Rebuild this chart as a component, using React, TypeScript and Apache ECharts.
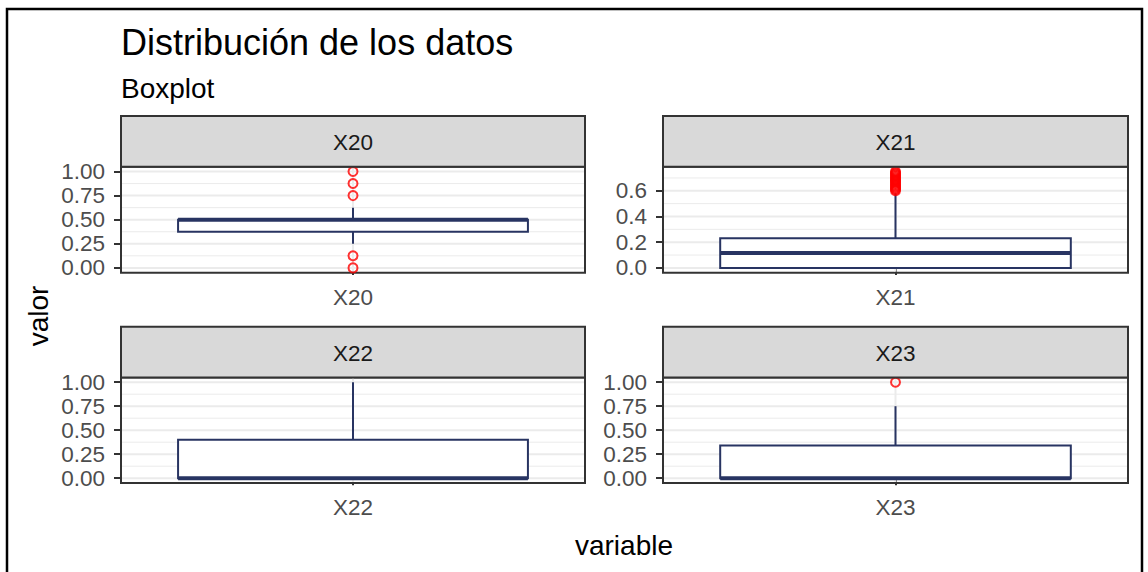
import React, { useEffect, useRef } from "react";
import * as echarts from "echarts";

// ---------- data ----------
const panels = ["X20", "X21", "X22", "X23"];
// [lower whisker, Q1, median, Q3, upper whisker]
const boxX20 = [0.25, 0.375, 0.5, 0.5, 0.625];
const boxX21 = [0, 0, 0.115, 0.23, 0.58];
const boxX22 = [0, 0, 0, 0.4, 1];
const boxX23 = [0, 0, 0, 0.34, 0.75];
const outX20 = [0, 0.125, 0.75, 0.875, 1];
const outX21 = [0.6, 0.61, 0.62, 0.63, 0.64, 0.65, 0.66, 0.67, 0.68, 0.69, 0.7, 0.71, 0.72, 0.73, 0.74, 0.75];
const outX22: number[] = [];
const outX23 = [1];
const ticksUnit = [0, 0.25, 0.5, 0.75, 1];
const minorUnit = [0.125, 0.375, 0.625, 0.875];
const ticksX21 = [0, 0.2, 0.4, 0.6];
const minorX21 = [0.1, 0.3, 0.5, 0.7];
const rangeUnit = [-0.05, 1.05];
const rangeX21 = [-0.0375, 0.7875];

const boxes = [boxX20, boxX21, boxX22, boxX23];
const outliers = [outX20, outX21, outX22, outX23];
const majors = [ticksUnit, ticksX21, ticksUnit, ticksUnit];
const minors = [minorUnit, minorX21, minorUnit, minorUnit];
const ranges = [rangeUnit, rangeX21, rangeUnit, rangeUnit];
const decimals = [2, 1, 2, 2];

// ---------- layout ----------
const FONT = "'Liberation Sans', Arial, sans-serif";
const NAVY = "#283462";
const colLeft = [121, 663];
const panelW = [464, 465];
const stripTop = [116, 326.7];
const stripH = 50.7;
const plotH = [106, 105.6];

export default function App() {
  const ref = useRef<HTMLDivElement>(null);
  useEffect(() => {
    document.body.style.margin = "0";
    const chart = echarts.init(ref.current!, null, { renderer: "svg" });

    const grids: any[] = [];
    const xAxes: any[] = [];
    const yAxes: any[] = [];
    const series: any[] = [];
    const graphics: any[] = [];

    panels.forEach((name, i) => {
      const col = i % 2;
      const row = Math.floor(i / 2);
      const left = colLeft[col];
      const w = panelW[col];
      const top = stripTop[row] + stripH;
      grids.push({
        left, top, width: w, height: plotH[row],
        show: true, backgroundColor: "#fff", borderColor: "#333333", borderWidth: 2,
      });
      xAxes.push({
        type: "category", gridIndex: i, data: [name], boundaryGap: true,
        axisLine: { show: false },
        axisTick: { show: true, alignWithLabel: true, length: 7, lineStyle: { color: "#333333", width: 2 } },
        axisLabel: { color: "#4d4d4d", fontSize: 22.5, fontFamily: FONT, margin: 13 },
        splitLine: { show: false },
      });
      const dec = decimals[i];
      yAxes.push({
        type: "value", gridIndex: i, min: ranges[i][0], max: ranges[i][1],
        axisLine: { show: false },
        axisTick: { show: true, customValues: majors[i], length: 7, lineStyle: { color: "#333333", width: 2 } },
        axisLabel: {
          customValues: majors[i], color: "#4d4d4d", fontSize: 22.5, fontFamily: FONT, margin: 16,
          formatter: (v: number) => v.toFixed(dec),
        },
        splitLine: { show: false },
      });
      // grid lines
      const gl = [
        ...minors[i].map((v) => [name, v, 0]),
        ...majors[i].map((v) => [name, v, 1]),
      ];
      series.push({
        type: "custom", xAxisIndex: i, yAxisIndex: i, z: 1, silent: true,
        data: gl, encode: { x: 0, y: 1 },
        renderItem: (params: any, api: any) => {
          const cs = params.coordSys;
          const y = api.coord([api.value(0), api.value(1)])[1];
          return {
            type: "line",
            shape: { x1: cs.x + 1, y1: y, x2: cs.x + cs.width - 1, y2: y },
            style: { stroke: "#ebebeb", lineWidth: api.value(2) ? 2 : 1 },
          };
        },
      });
      // boxplot
      const b = boxes[i];
      series.push({
        type: "custom", xAxisIndex: i, yAxisIndex: i, z: 3, silent: true,
        data: [[name, b[0], b[1], b[2], b[3], b[4]]],
        encode: { x: 0, y: [1, 2, 3, 4, 5] },
        renderItem: (params: any, api: any) => {
          const cs = params.coordSys;
          const c = api.value(0);
          const x = api.coord([c, 0])[0];
          const band = api.size([1, 0])[0];
          const bw = band * 0.754;
          const yy = [1, 2, 3, 4, 5].map((k) => api.coord([c, api.value(k)])[1]);
          const children: any[] = [
            { type: "line", shape: { x1: x, y1: cs.y + 1, x2: x, y2: cs.y + cs.height - 1 }, style: { stroke: "#ebebeb", lineWidth: 2 } },
          ];
          if (yy[4] < yy[3]) children.push({ type: "line", shape: { x1: x, y1: yy[4], x2: x, y2: yy[3] }, style: { stroke: NAVY, lineWidth: 2 } });
          if (yy[0] > yy[1]) children.push({ type: "line", shape: { x1: x, y1: yy[1], x2: x, y2: yy[0] }, style: { stroke: NAVY, lineWidth: 2 } });
          children.push({
            type: "rect", shape: { x: x - bw / 2, y: yy[3], width: bw, height: yy[1] - yy[3] },
            style: { fill: "#ffffff", stroke: NAVY, lineWidth: 2 },
          });
          children.push({ type: "line", shape: { x1: x - bw / 2, y1: yy[2], x2: x + bw / 2, y2: yy[2] }, style: { stroke: NAVY, lineWidth: 4 } });
          return { type: "group", children };
        },
      });
      // outliers
      series.push({
        type: "scatter", xAxisIndex: i, yAxisIndex: i, z: 4, silent: true,
        symbol: "circle", symbolSize: 9,
        itemStyle: { color: "rgba(255,255,255,0)", borderColor: "#ff0000", borderWidth: 2 },
        data: outliers[i].map((v) => [name, v]),
      });
      // strip
      graphics.push({
        type: "rect", shape: { x: left, y: stripTop[row], width: w, height: stripH },
        style: { fill: "#d9d9d9", stroke: "#333333", lineWidth: 2 }, z: 10,
      });
      graphics.push({
        type: "text", x: left + w / 2, y: stripTop[row] + stripH / 2 + 1, z: 11,
        style: { text: name, fill: "#1a1a1a", font: `22.5px ${FONT}`, align: "center", verticalAlign: "middle" },
      });
    });

    graphics.push(
      { type: "rect", shape: { x: 7, y: 9, width: 1135, height: 600 }, style: { fill: "none", stroke: "#000", lineWidth: 2.5 }, z: 20 },
      { type: "text", x: 121, y: 42, style: { text: "Distribución de los datos", fill: "#000", font: `36px ${FONT}`, verticalAlign: "middle" } },
      { type: "text", x: 121, y: 88, style: { text: "Boxplot", fill: "#000", font: `28px ${FONT}`, verticalAlign: "middle" } },
      { type: "text", x: 624, y: 545, style: { text: "variable", fill: "#000", font: `28px ${FONT}`, align: "center", verticalAlign: "middle" } },
      { type: "text", x: 38, y: 316, rotation: Math.PI / 2, style: { text: "valor", fill: "#000", font: `28px ${FONT}`, align: "center", verticalAlign: "middle" } },
    );

    chart.setOption({
      animation: false,
      backgroundColor: "#fff",
      grid: grids,
      xAxis: xAxes,
      yAxis: yAxes,
      series,
      graphic: graphics,
    });
    return () => chart.dispose();
  }, []);
  return <div ref={ref} style={{ width: 1148, height: 572 }} />;
}
